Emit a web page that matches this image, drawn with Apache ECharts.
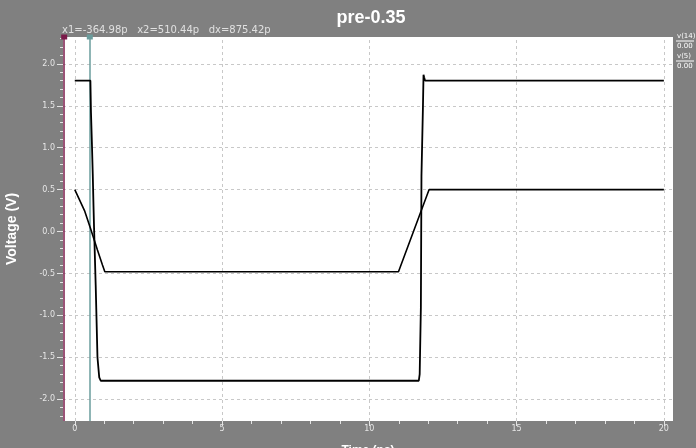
<!DOCTYPE html>
<html>
<head>
<meta charset="utf-8">
<script src="https://cdn.jsdelivr.net/npm/echarts@6/dist/echarts.min.js"></script>
<style>
  html, body { margin: 0; padding: 0; background: #808080; }
  #chart { width: 696px; height: 448px; }
</style>
</head>
<body>
<div id="chart"></div>
<script>
// time in ns, voltage in V
const v14 = [
  [0, 1.8], [0.53, 1.8], [0.55, 1.42], [0.58, 1.07], [0.61, 0.69], [0.635, 0.31],
  [0.655, 0.04], [0.71, -0.64], [0.77, -1.5], [0.83, -1.74], [0.88, -1.78],
  [1.0, -1.78], [11.68, -1.78], [11.71, -1.7], [11.75, -0.91], [11.77, 0.66],
  [11.82, 1.48], [11.84, 1.87], [11.86, 1.84], [11.89, 1.8], [20, 1.8]
];
const v5 = [
  [0, 0.5], [0.33, 0.25], [0.54, 0.03], [0.77, -0.22], [0.94, -0.4],
  [1.02, -0.48], [10.99, -0.48], [12.03, 0.5], [20, 0.5]
];

const xLabels = [0, 5, 10, 15, 20];
const yLabels = [-2.0, -1.5, -1.0, -0.5, 0.0, 0.5, 1.0, 1.5, 2.0];
const cursors = [-0.365, 0.51];
const cursorText = 'x1=-364.98p   x2=510.44p   dx=875.42p';

const xMin = -0.4, xMax = 20.31;
const yMin = -2.26, yMax = 2.32;

const xMinor = [];
for (let i = 0; i <= 20; i++) xMinor.push(i);
const yMinor = [];
for (let i = -22; i <= 23; i++) yMinor.push(i / 10);

const tickColor = '#e4e4e4';
const labelStyle = { color: '#e6e6e6', fontSize: 8, fontFamily: 'DejaVu Sans' };
const noLine = { show: false, onZero: false };

const chart = echarts.init(document.getElementById('chart'));
chart.setOption({
  backgroundColor: '#808080',
  animation: false,
  title: {
    text: 'pre-0.35',
    left: 366, top: 4, textAlign: 'center',
    textStyle: { color: '#fff', fontSize: 18, fontWeight: 'bold', fontFamily: 'Liberation Sans' }
  },
  grid: {
    left: 63, right: 23, top: 37, bottom: 27,
    outerBoundsMode: 'none',
    show: true, backgroundColor: '#fff', borderWidth: 0
  },
  xAxis: [
    {
      type: 'value', min: xMin, max: xMax, position: 'bottom',
      name: 'Time (ns)', nameLocation: 'middle', nameGap: 24,
      nameTextStyle: { color: '#fff', fontSize: 12, fontWeight: 'bold', fontFamily: 'Liberation Sans' },
      axisLine: noLine,
      axisTick: { customValues: xLabels, length: 5, lineStyle: { color: tickColor } },
      axisLabel: Object.assign({ customValues: xLabels, margin: 4 }, labelStyle),
      splitLine: { show: false }
    },
    {
      type: 'value', min: xMin, max: xMax, position: 'bottom',
      axisLine: noLine,
      axisTick: { customValues: xMinor, length: 3, lineStyle: { color: tickColor } },
      axisLabel: { show: false },
      splitLine: { show: false }
    }
  ],
  yAxis: [
    {
      type: 'value', min: yMin, max: yMax, position: 'left',
      name: 'Voltage (V)', nameLocation: 'middle', nameGap: 44, nameRotate: 90,
      nameTextStyle: { color: '#fff', fontSize: 14, fontWeight: 'bold', fontFamily: 'Liberation Sans' },
      axisLine: noLine,
      axisTick: { customValues: yLabels, length: 6, lineStyle: { color: tickColor } },
      axisLabel: Object.assign({ customValues: yLabels, margin: 8, formatter: v => v.toFixed(1) }, labelStyle),
      splitLine: { show: false }
    },
    {
      type: 'value', min: yMin, max: yMax, position: 'left',
      axisLine: noLine,
      axisTick: { customValues: yMinor, length: 3, lineStyle: { color: tickColor } },
      axisLabel: { show: false },
      splitLine: { show: false }
    }
  ],
  graphic: [
    { type: 'text', left: 62, top: 25, style: { text: cursorText, fill: '#e0e0e0', fontSize: 10, fontFamily: 'DejaVu Sans' } },
    { type: 'text', left: 677, top: 33, style: { text: 'v(14)', fill: '#fff', fontSize: 7, fontFamily: 'DejaVu Sans' } },
    { type: 'line', shape: { x1: 676, y1: 41, x2: 694, y2: 41 }, style: { stroke: '#fff', lineWidth: 1 } },
    { type: 'text', left: 677, top: 43, style: { text: '0.00', fill: '#fff', fontSize: 7, fontFamily: 'DejaVu Sans' } },
    { type: 'text', left: 677, top: 53, style: { text: 'v(5)', fill: '#fff', fontSize: 7, fontFamily: 'DejaVu Sans' } },
    { type: 'line', shape: { x1: 676, y1: 61, x2: 694, y2: 61 }, style: { stroke: '#fff', lineWidth: 1 } },
    { type: 'text', left: 677, top: 63, style: { text: '0.00', fill: '#fff', fontSize: 7, fontFamily: 'DejaVu Sans' } }
  ],
  series: [
    {
      name: 'grid', type: 'line', data: [], z: 1, silent: true,
      markLine: {
        silent: true, symbol: 'none', label: { show: false }, animation: false,
        lineStyle: { color: '#c8c8c8', type: [3, 3], width: 1 },
        data: xLabels.map(v => ({ xAxis: v })).concat(yLabels.map(v => ({ yAxis: v })))
      }
    },
    {
      name: 'cursors', type: 'line', data: [], z: 2, silent: true,
      markLine: {
        silent: true, symbol: ['none', 'rect'], symbolSize: [6, 5], label: { show: false }, animation: false,
        data: [
          { xAxis: cursors[0], lineStyle: { color: '#7a1a4a', type: 'solid', width: 1.5 }, itemStyle: { color: '#c0603a' } },
          { xAxis: cursors[1], lineStyle: { color: '#6a9c9c', type: 'solid', width: 1.5 }, itemStyle: { color: '#2e6e6e' } }
        ]
      }
    },
    {
      name: 'v(14)', type: 'line', data: v14, z: 5, showSymbol: false,
      lineStyle: { color: '#000', width: 1.8 }
    },
    {
      name: 'v(5)', type: 'line', data: v5, z: 5, showSymbol: false,
      lineStyle: { color: '#000', width: 1.6 }
    }
  ]
});
</script>
</body>
</html>
